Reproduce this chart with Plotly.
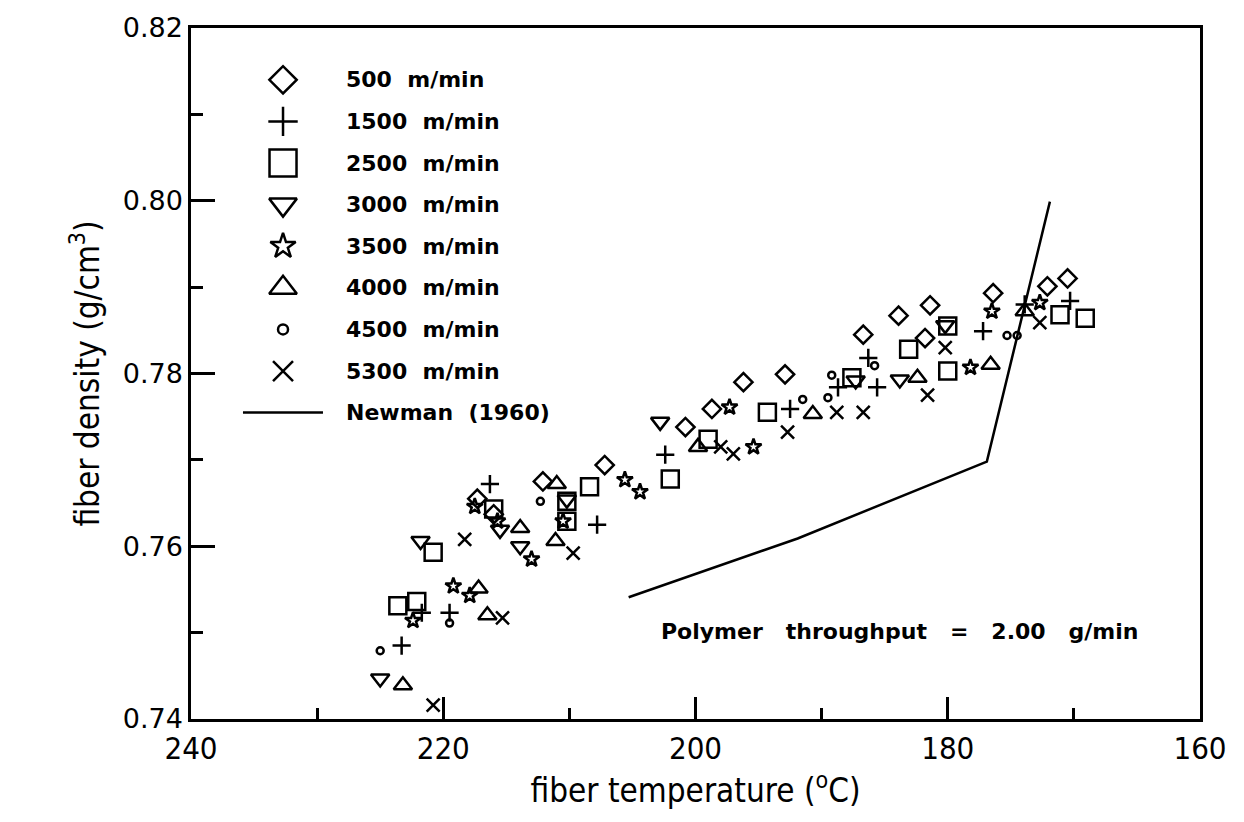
import plotly.graph_objects as go

# ---------------- data ----------------
x_500 = [217.3, 216.0, 212.1, 207.2, 200.8, 198.7, 196.2, 192.9, 186.7, 183.9, 181.4, 181.8, 176.4, 172.1, 170.5]
y_500 = [0.7655, 0.7637, 0.7675, 0.7694, 0.7738, 0.7759, 0.7790, 0.7799, 0.7845, 0.7867, 0.7879, 0.7841, 0.7893, 0.7901, 0.7910]

x_1500 = [223.3, 221.7, 219.5, 216.3, 207.8, 202.4, 192.5, 188.7, 186.3, 185.6, 177.2, 173.9, 170.3]
y_1500 = [0.7485, 0.7523, 0.7523, 0.7672, 0.7625, 0.7706, 0.7759, 0.7784, 0.7818, 0.7784, 0.7849, 0.7880, 0.7884]

x_2500 = [220.8, 223.6, 222.1, 216.0, 210.2, 210.2, 208.4, 202.0, 199.0, 194.3, 187.6, 183.1, 180.0, 180.0, 171.1, 169.1]
y_2500 = [0.7593, 0.7531, 0.7536, 0.7643, 0.7652, 0.7629, 0.7669, 0.7678, 0.7724, 0.7755, 0.7795, 0.7828, 0.7855, 0.7803, 0.7868, 0.7864]

x_3000 = [225.0, 221.8, 215.5, 213.9, 210.2, 202.8, 187.3, 183.8, 180.2]
y_3000 = [0.7447, 0.7606, 0.7619, 0.7600, 0.7654, 0.7744, 0.7792, 0.7793, 0.7856]

x_3500 = [222.4, 219.2, 217.9, 217.5, 215.7, 213.0, 210.5, 205.6, 204.4, 197.3, 195.4, 178.2, 176.5, 172.7]
y_3500 = [0.7514, 0.7554, 0.7543, 0.7646, 0.7629, 0.7585, 0.7629, 0.7677, 0.7663, 0.7761, 0.7715, 0.7807, 0.7872, 0.7882]

x_4000 = [223.2, 217.2, 216.5, 213.9, 211.0, 211.1, 199.8, 190.7, 182.4, 176.6, 173.9]
y_4000 = [0.7439, 0.7551, 0.7520, 0.7621, 0.7672, 0.7606, 0.7715, 0.7753, 0.7795, 0.7810, 0.7872]

x_4500 = [225.0, 219.5, 212.3, 191.5, 189.5, 189.2, 185.8, 175.3, 174.5]
y_4500 = [0.7479, 0.7511, 0.7652, 0.7770, 0.7772, 0.7798, 0.7809, 0.7844, 0.7844]

x_5300 = [220.8, 218.3, 215.3, 209.7, 198.0, 197.0, 192.7, 188.8, 186.7, 181.6, 180.2, 172.7]
y_5300 = [0.7416, 0.7608, 0.7517, 0.7592, 0.7715, 0.7707, 0.7732, 0.7755, 0.7755, 0.7775, 0.7830, 0.7859]

x_newman = [205.3, 191.9, 176.9, 171.9]
y_newman = [0.7541, 0.7609, 0.7698, 0.7999]

series_labels = ["500", "1500", "2500", "3000", "3500", "4000", "4500", "5300"]
x_ticks = [240, 220, 200, 180, 160]
y_ticks = [0.74, 0.76, 0.78, 0.80, 0.82]

# ---------------- styling ----------------
series = [
    (x_500, y_500, "diamond-open", 14, 21),
    (x_1500, y_1500, "cross-thin-open", 13, 21),
    (x_2500, y_2500, "square-open", 17, 27),
    (x_3000, y_3000, "triangle-down-open", 16, 24),
    (x_3500, y_3500, "star-open", 12, 19),
    (x_4000, y_4000, "triangle-up-open", 16, 24),
    (x_4500, y_4500, "circle-open", 7, 10),
    (x_5300, y_5300, "x-thin-open", 13, 20),
]

fig = go.Figure()
for xs, ys, sym, sz, _ in series:
    fig.add_trace(go.Scatter(
        x=xs, y=ys, mode="markers", showlegend=False,
        marker=dict(symbol=sym, size=sz, color="black",
                    line=dict(color="black", width=2.5)),
    ))

fig.add_trace(go.Scatter(x=x_newman, y=y_newman, mode="lines", showlegend=False,
                         line=dict(color="black", width=2.5)))

# ---------------- manual legend ----------------
leg_x = 0.0912
leg_text_x = 0.1520
leg_top = 0.925
leg_step = 0.0602
text_font = dict(family="DejaVu Sans", size=22, color="black", weight="bold")
gap = "\u00a0\u00a0"
gap3 = "\u00a0\u00a0\u00a0"

for i, (lab, (_, _, sym, _, lsz)) in enumerate(zip(series_labels, series)):
    yy = leg_top - i * leg_step
    fig.add_trace(go.Scatter(
        x=[leg_x], y=[yy], xaxis="x2", yaxis="y2", mode="markers", showlegend=False,
        marker=dict(symbol=sym, size=lsz, color="black", line=dict(color="black", width=2.5)),
    ))
    fig.add_annotation(x=leg_text_x, y=yy, xref="paper", yref="paper",
                       text=f"{lab}{gap}m/min", showarrow=False,
                       xanchor="left", yanchor="middle", font=text_font)

yy = leg_top - 8 * leg_step
fig.add_shape(type="line", xref="paper", yref="paper",
              x0=0.0515, x1=0.1308, y0=yy, y1=yy, line=dict(color="black", width=2.5))
fig.add_annotation(x=leg_text_x, y=yy, xref="paper", yref="paper",
                   text=f"Newman{gap}(1960)", showarrow=False,
                   xanchor="left", yanchor="middle", font=text_font)

fig.add_annotation(x=0.7027, y=0.1264, xref="paper", yref="paper",
                   text=f"Polymer{gap3}throughput{gap3}={gap3}2.00{gap3}g/min",
                   showarrow=False, xanchor="center", yanchor="middle", font=text_font)

cond = "DejaVu Sans Condensed, Liberation Sans Narrow, Roboto Condensed, sans-serif"

fig.update_layout(
    width=1244, height=822,
    margin=dict(l=191, r=44, t=23, b=103),
    paper_bgcolor="white", plot_bgcolor="white",
    showlegend=False,
    xaxis=dict(
        range=[240, 160], tickvals=x_ticks, ticktext=[str(v) for v in x_ticks],
        ticks="inside", ticklen=22, tickwidth=2.5, tickcolor="black",
        minor=dict(dtick=10, tick0=0, ticks="inside", ticklen=11, tickwidth=2.5, tickcolor="black", showgrid=False),
        showline=True, linewidth=2.5, linecolor="black", mirror=True,
        showgrid=False, zeroline=False,
        tickfont=dict(family=cond, size=31, color="black"),
        title=dict(text="fiber temperature (<sup>o</sup>C)", font=dict(family=cond, size=33, color="black"), standoff=14),
    ),
    yaxis=dict(
        range=[0.74, 0.82], tickvals=y_ticks, ticktext=[f"{v:.2f}" for v in y_ticks],
        ticks="inside", ticklen=24, tickwidth=2.5, tickcolor="black",
        minor=dict(dtick=0.01, tick0=0, ticks="inside", ticklen=12, tickwidth=2.5, tickcolor="black", showgrid=False),
        showline=True, linewidth=2.5, linecolor="black", mirror=True,
        showgrid=False, zeroline=False,
        tickfont=dict(family="DejaVu Sans", size=27, color="black"),
        title=dict(text="fiber density (g/cm<sup>3</sup>)", font=dict(family=cond, size=33, color="black"), standoff=14),
    ),
    xaxis2=dict(overlaying="x", range=[0, 1], visible=False, fixedrange=True),
    yaxis2=dict(overlaying="y", range=[0, 1], visible=False, fixedrange=True),
)

fig.write_html("out.html")
